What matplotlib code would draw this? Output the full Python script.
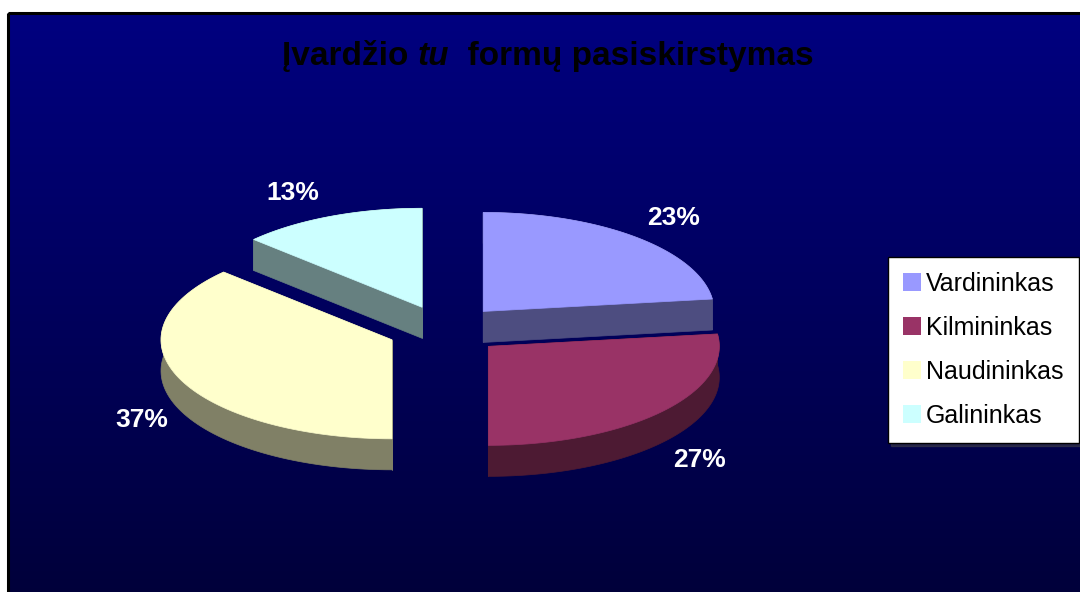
import matplotlib
matplotlib.use('Agg')
import matplotlib.pyplot as plt
import numpy as np
from matplotlib.patches import Polygon, Rectangle, Patch
from matplotlib.colors import to_rgb

plt.rcParams['font.family'] = ['Liberation Sans', 'DejaVu Sans']

# Duomenys
categories = ['Vardininkas', 'Kilmininkas', 'Naudininkas', 'Galininkas']
values = [23, 27, 37, 13]
colors = ['#9999FF', '#993366', '#FFFFCC', '#CCFFFF']
title_parts = ['Įvardžio ', 'tu', '  formų pasiskirstymas']

W, H = 1080, 592
fig = plt.figure(figsize=(W / 100, H / 100), dpi=100)
fig.patch.set_facecolor('white')
ax = fig.add_axes([0, 0, 1, 1])
ax.set_xlim(0, W)
ax.set_ylim(H, 0)
ax.axis('off')

# Fonas su gradientu
grad = np.linspace(0, 1, 256).reshape(-1, 1)
top_c = np.array([0, 0, 128]) / 255
bot_c = np.array([0, 0, 58]) / 255
img = top_c[None, None, :] * (1 - grad[:, :, None]) + bot_c[None, None, :] * grad[:, :, None]
ax.imshow(img, extent=(8, W + 5, H + 5, 13), aspect='auto', zorder=0)
ax.add_patch(Rectangle((8, 13), W, H, fill=False, edgecolor='black', lw=2.2, zorder=1))

# 3D skritulinė diagrama
cx, cy = 445, 330
rx, ry = 231, 99
depth = 31
explode = 0.25

def point(theta, ox, oy):
    t = np.radians(theta)
    return ox + rx * np.sin(t), oy - ry * np.cos(t)

total = sum(values)
slices = []
start = 0.0
for name, v, c in zip(categories, values, colors):
    span = v / total * 360
    end = start + span
    mid = (start + end) / 2
    ox, oy = point(mid, cx, cy)
    ox = cx + explode * (ox - cx)
    oy = cy + explode * (oy - cy)
    slices.append((start, end, mid, ox, oy, c, v))
    start = end

for s0, s1, mid, ox, oy, c, v in sorted(slices, key=lambda s: s[4]):
    th = np.linspace(s0, s1, 80)
    ax_, ay_ = point(th, ox, oy)
    arc = np.column_stack([ax_, ay_])
    apex = np.array([ox, oy])
    side = tuple(np.array(to_rgb(c)) * 0.5)
    down = np.array([0, depth])
    walls = [
        np.array([apex, arc[0], arc[0] + down, apex + down]),
        np.array([apex, arc[-1], arc[-1] + down, apex + down]),
        np.vstack([arc, (arc + down)[::-1]]),
    ]
    for w in walls:
        ax.add_patch(Polygon(w, closed=True, facecolor=side, edgecolor=side, lw=0.5, zorder=2))
    top = np.vstack([apex, arc])
    ax.add_patch(Polygon(top, closed=True, facecolor=c, edgecolor=c, lw=0.5, zorder=2))

# Procentų etiketės (už skilties krašto)
for s0, s1, mid, ox, oy, c, v in slices:
    t = np.radians(mid)
    px, py = point(mid, ox, oy)
    if np.cos(t) < 0:
        py += depth
    lx = px + 38 * np.sign(np.sin(t))
    ly = py - 26 * np.cos(t)
    ax.text(lx, ly, f'{v}%', color='white', fontsize=19, fontweight='bold',
            ha='center', va='center', zorder=3)

# Pavadinimas (su pasvirusiu "tu")
styles = ['normal', 'italic', 'normal']
texts = [ax.text(0, 65, p, fontsize=24, fontweight='bold', style=st, color='black',
                 ha='left', va='baseline', zorder=3)
         for p, st in zip(title_parts, styles)]
fig.canvas.draw()
r = fig.canvas.get_renderer()
widths = [t.get_window_extent(r).width for t in texts]
x = 548 - sum(widths) / 2
for t, w in zip(texts, widths):
    t.set_x(x)
    x += w

# Legenda
handles = [Patch(facecolor=c, edgecolor='none') for c in colors]
leg = ax.legend(handles, categories, loc='upper left', bbox_to_anchor=(888 / W, 1 - 257 / H),
                bbox_transform=fig.transFigure, fontsize=18, frameon=True, fancybox=False,
                framealpha=1, edgecolor='black', facecolor='white', borderaxespad=0,
                handlelength=0.72, handleheight=0.72, handletextpad=0.2,
                labelspacing=0.8, borderpad=0.6, shadow={'color': '#444444', 'ox': 2, 'oy': -2})
leg.get_frame().set_linewidth(1.0)
leg.set_zorder(4)

fig.savefig('out.png', dpi=100)
